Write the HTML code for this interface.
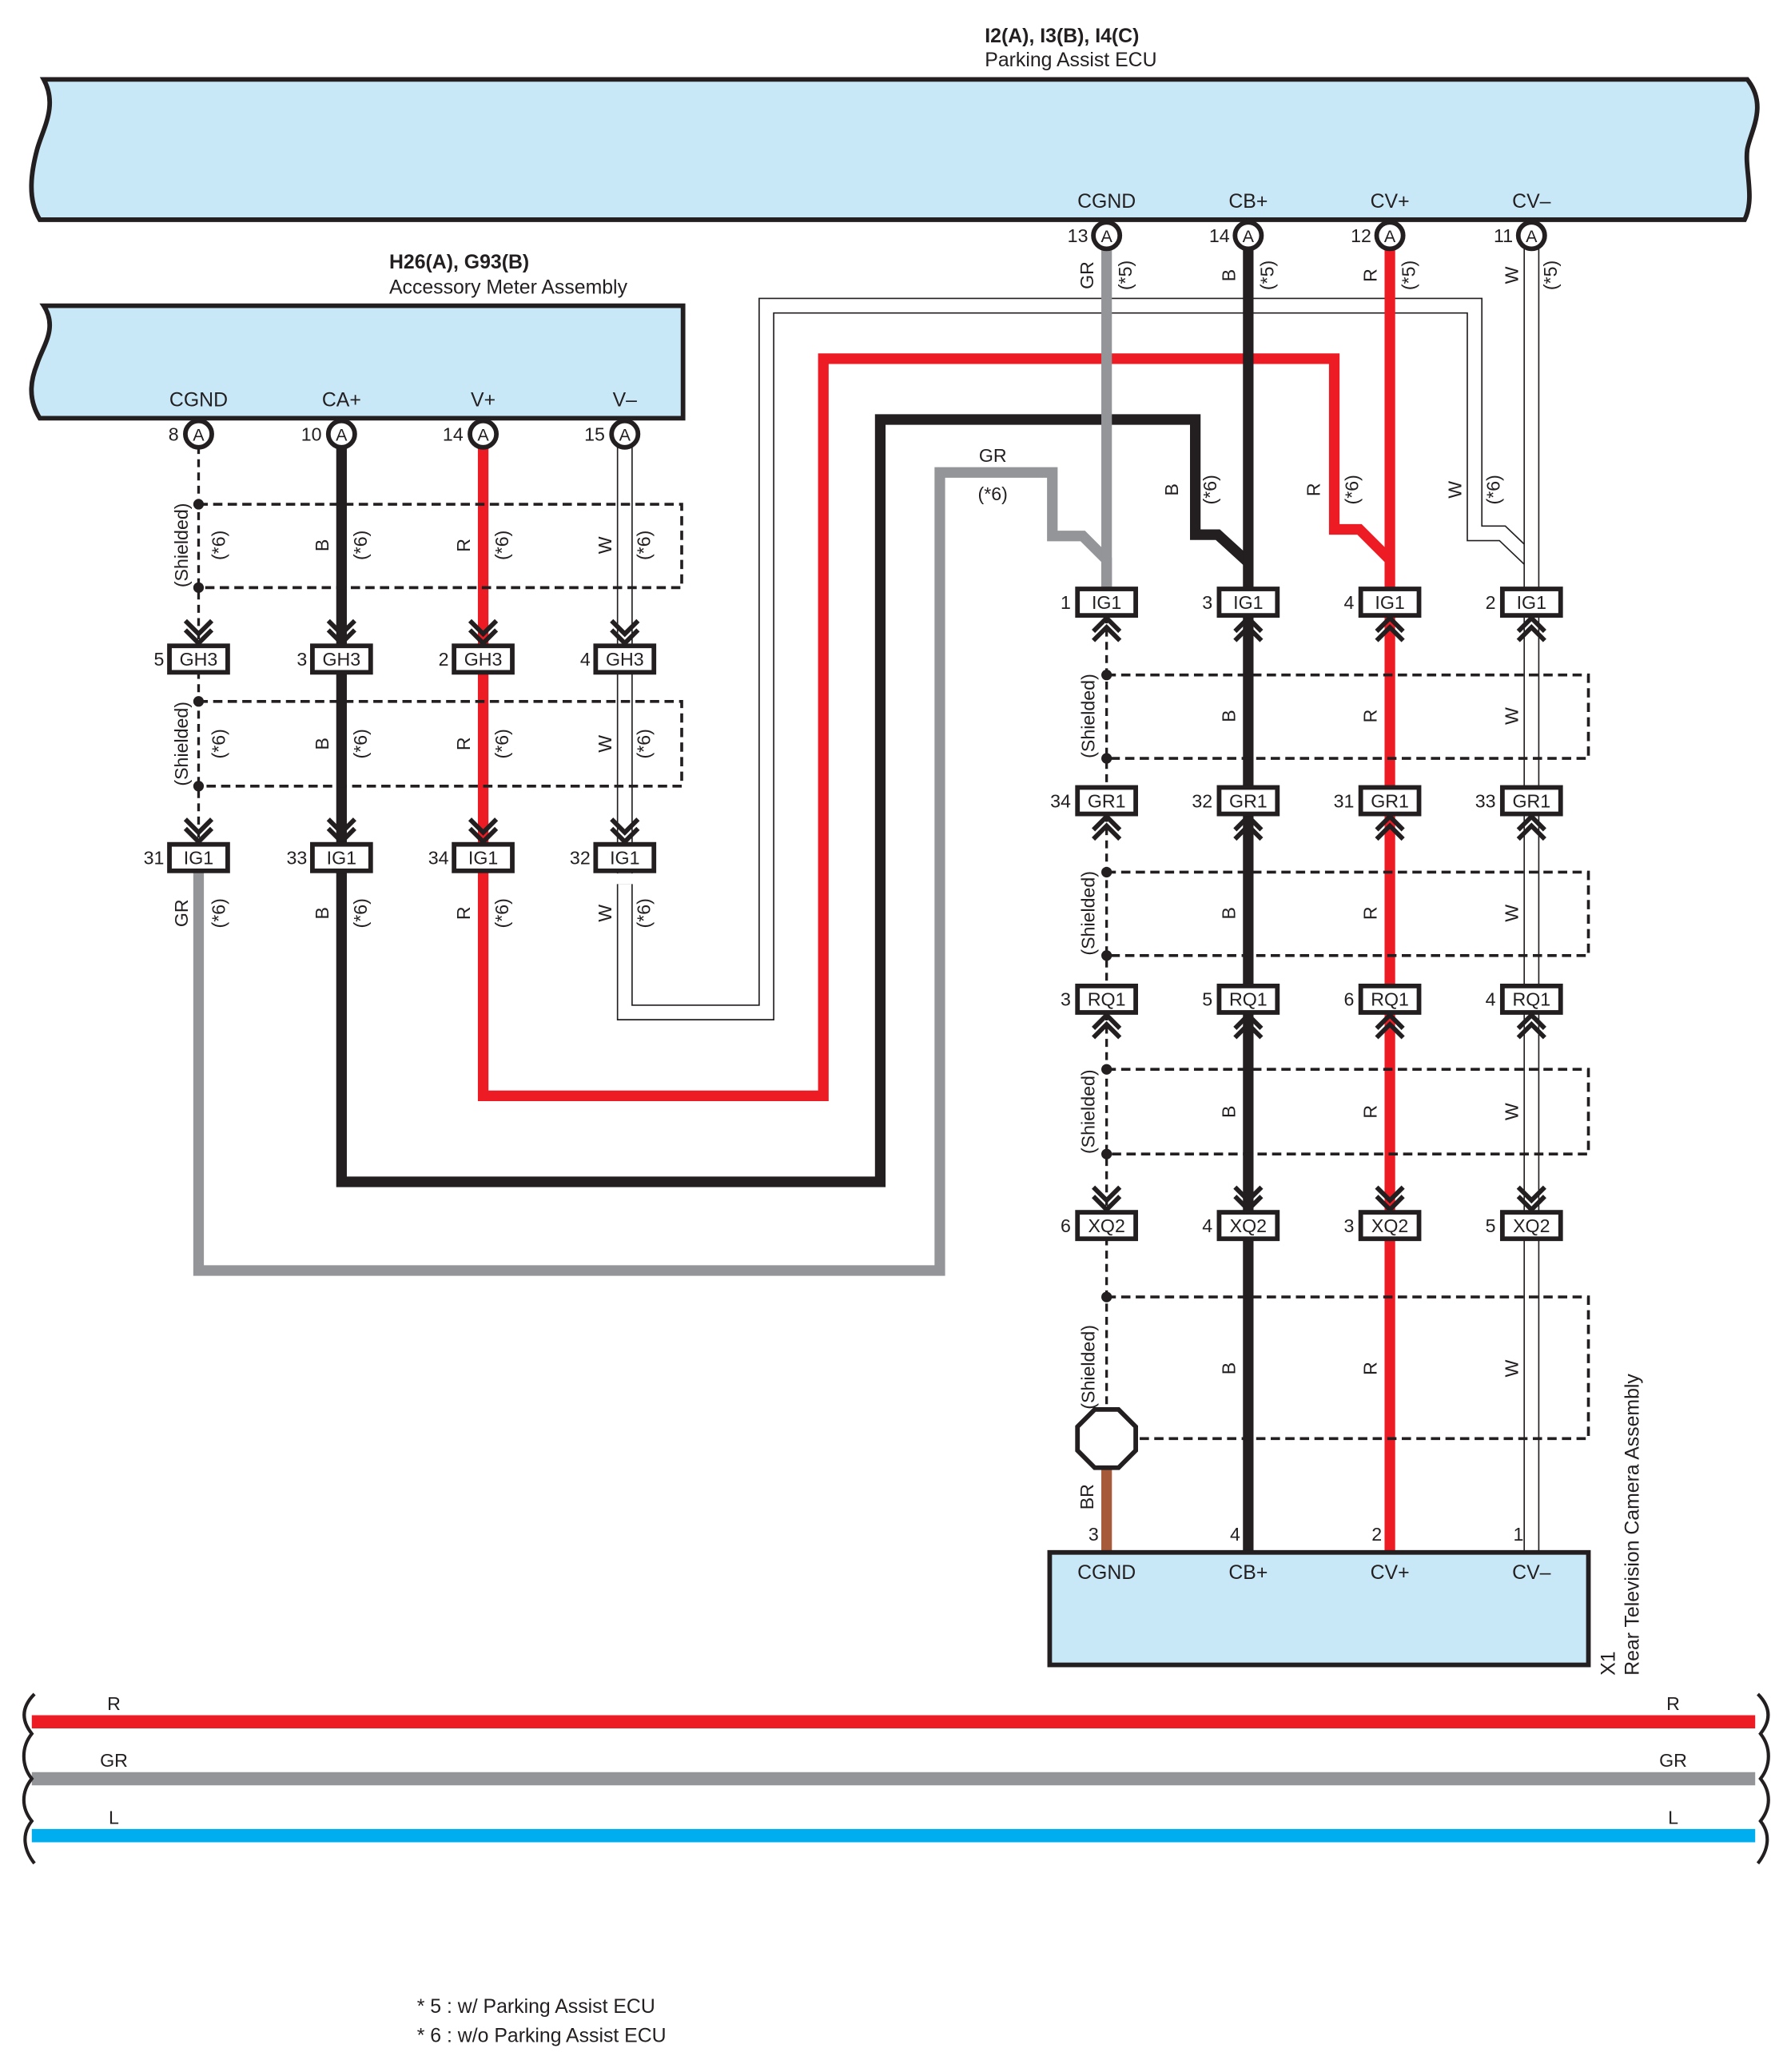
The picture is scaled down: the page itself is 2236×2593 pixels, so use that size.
<!DOCTYPE html>
<html><head><meta charset="utf-8"><style>html,body{margin:0;padding:0;background:#fff}svg{display:block}text{font-family:"Liberation Sans",sans-serif;fill:#231f20}</style></head><body>
<svg width="2236" height="2593" viewBox="0 0 1350 1565.6" xmlns="http://www.w3.org/2000/svg">
<defs>
<g id="cd" fill="none" stroke="#231f20" stroke-width="3.5"><polyline points="-10,-8 0,2 10,-8"/><polyline points="-10,-1 0,9 10,-1"/></g>
<g id="cu" fill="none" stroke="#231f20" stroke-width="3.5"><polyline points="-10,8 0,-2 10,8"/><polyline points="-10,1 0,-9 10,1"/></g>
</defs>
<!-- titles -->
<text x="744" y="32" font-size="15" font-weight="bold">I2(A), I3(B), I4(C)</text>
<text x="744" y="50" font-size="15">Parking Assist ECU</text>
<text x="294" y="203" font-size="15" font-weight="bold">H26(A), G93(B)</text>
<text x="294" y="222" font-size="15">Accessory Meter Assembly</text>
<!-- ECU box -->
<path d="M33,60 L1320,60 C1336,80 1322,100 1320,113 C1318,128 1326,150 1318,166 L30,166 C20,150 24,128 28,113 C32,98 44,80 33,60 Z" fill="#c8e8f8" stroke="#231f20" stroke-width="3.5"/>
<!-- Accessory box -->
<path d="M33,231 L516,231 L516,316 L30,316 C20,300 24,285 28,275 C32,262 44,248 33,231 Z" fill="#c8e8f8" stroke="#231f20" stroke-width="3.5"/>
<g font-size="15" text-anchor="middle">
<text x="836" y="157">CGND</text><text x="943" y="157">CB+</text><text x="1050" y="157">CV+</text><text x="1157" y="157">CV–</text>
<text x="150" y="307">CGND</text><text x="258" y="307">CA+</text><text x="365" y="307">V+</text><text x="472" y="307">V–</text>
</g>
<!-- W wire routing (double line) -->
<g fill="none" stroke-linejoin="miter">
<path d="M472,668 L472,765 L579,765 L579,231 L1114,231 L1114,403 L1135,403 L1157,424" stroke="#231f20" stroke-width="12"/>
<path d="M472,668 L472,765 L579,765 L579,231 L1114,231 L1114,403 L1135,403 L1157,424" stroke="#fff" stroke-width="10"/>
<!-- GR -->
<path d="M150,658 L150,960 L710,960 L710,357 L795,357 L795,405 L818,405 L836,423 L836,445" stroke="#939598" stroke-width="8"/>
<!-- B -->
<path d="M258,658 L258,893 L665,893 L665,317 L903,317 L903,404 L920,404 L943,425" stroke="#231f20" stroke-width="8"/>
<!-- R -->
<path d="M365,658 L365,828 L622,828 L622,271 L1008,271 L1008,400 L1027,400 L1050,423" stroke="#ed1c24" stroke-width="8"/>
</g>
<!-- right verticals -->
<g fill="none">
<line x1="836" y1="187" x2="836" y2="445" stroke="#939598" stroke-width="8"/>
<line x1="943" y1="187" x2="943" y2="1172" stroke="#231f20" stroke-width="8"/>
<line x1="1050" y1="187" x2="1050" y2="1172" stroke="#ed1c24" stroke-width="8"/>
<line x1="1157" y1="187" x2="1157" y2="1172" stroke="#231f20" stroke-width="12"/>
<line x1="1157" y1="187" x2="1157" y2="1172" stroke="#fff" stroke-width="10"/>
<line x1="836" y1="465" x2="836" y2="1065" stroke="#231f20" stroke-width="2" stroke-dasharray="6,4"/>
<line x1="836" y1="1108" x2="836" y2="1172" stroke="#a65a3a" stroke-width="8"/>
<!-- left verticals -->
<line x1="150" y1="337" x2="150" y2="638" stroke="#231f20" stroke-width="2" stroke-dasharray="6,4"/>
<line x1="258" y1="337" x2="258" y2="660" stroke="#231f20" stroke-width="8"/>
<line x1="365" y1="337" x2="365" y2="660" stroke="#ed1c24" stroke-width="8"/>
<line x1="472" y1="337" x2="472" y2="660" stroke="#231f20" stroke-width="12"/>
<line x1="472" y1="337" x2="472" y2="660" stroke="#fff" stroke-width="10"/>
</g>
<!-- shield boxes -->
<g fill="none" stroke="#231f20" stroke-width="2.2" stroke-dasharray="7,4">
<path d="M150,381 L515,381 L515,444 L150,444"/>
<path d="M150,530 L515,530 L515,594 L150,594"/>
<path d="M836,510 L1200,510 L1200,573 L836,573"/>
<path d="M836,659 L1200,659 L1200,722 L836,722"/>
<path d="M836,808 L1200,808 L1200,872 L836,872"/>
<path d="M836,980 L1200,980 L1200,1087 L858,1087"/>
</g>
<g fill="#231f20">
<circle cx="150" cy="381" r="4"/><circle cx="150" cy="444" r="4"/><circle cx="150" cy="530" r="4"/><circle cx="150" cy="594" r="4"/>
<circle cx="836" cy="510" r="4"/><circle cx="836" cy="573" r="4"/><circle cx="836" cy="659" r="4"/><circle cx="836" cy="722" r="4"/>
<circle cx="836" cy="808" r="4"/><circle cx="836" cy="872" r="4"/><circle cx="836" cy="980" r="4"/>
</g>
<!-- octagon -->
<polygon points="827,1065 845,1065 858,1078 858,1096 845,1109 827,1109 814,1096 814,1078" fill="#fff" stroke="#231f20" stroke-width="3.5"/>
<!-- pin circles -->
<g fill="#fff" stroke="#231f20" stroke-width="3.5">
<circle cx="836" cy="178" r="10"/><circle cx="943" cy="178" r="10"/><circle cx="1050" cy="178" r="10"/><circle cx="1157" cy="178" r="10"/>
<circle cx="150" cy="328" r="10"/><circle cx="258" cy="328" r="10"/><circle cx="365" cy="328" r="10"/><circle cx="472" cy="328" r="10"/>
</g>
<g font-size="13" text-anchor="middle">
<text x="836" y="183">A</text><text x="943" y="183">A</text><text x="1050" y="183">A</text><text x="1157" y="183">A</text>
<text x="150" y="333">A</text><text x="258" y="333">A</text><text x="365" y="333">A</text><text x="472" y="333">A</text>
</g>
<g font-size="14" text-anchor="end">
<text x="822" y="183">13</text><text x="929" y="183">14</text><text x="1036" y="183">12</text><text x="1143" y="183">11</text>
<text x="135" y="333">8</text><text x="243" y="333">10</text><text x="350" y="333">14</text><text x="457" y="333">15</text>
</g>
<!-- chevrons -->
<use href="#cd" x="150" y="477"/><use href="#cd" x="258" y="477"/><use href="#cd" x="365" y="477"/><use href="#cd" x="472" y="477"/>
<use href="#cd" x="150" y="627"/><use href="#cd" x="258" y="627"/><use href="#cd" x="365" y="627"/><use href="#cd" x="472" y="627"/>
<use href="#cu" x="836" y="476"/><use href="#cu" x="943" y="476"/><use href="#cu" x="1050" y="476"/><use href="#cu" x="1157" y="476"/>
<use href="#cu" x="836" y="626"/><use href="#cu" x="943" y="626"/><use href="#cu" x="1050" y="626"/><use href="#cu" x="1157" y="626"/>
<use href="#cu" x="836" y="776"/><use href="#cu" x="943" y="776"/><use href="#cu" x="1050" y="776"/><use href="#cu" x="1157" y="776"/>
<use href="#cd" x="836" y="905"/><use href="#cd" x="943" y="905"/><use href="#cd" x="1050" y="905"/><use href="#cd" x="1157" y="905"/>
<!-- connectors -->
<g fill="#fff" stroke="#231f20" stroke-width="3.5">
<rect x="128" y="488" width="44" height="20"/><rect x="236" y="488" width="44" height="20"/><rect x="343" y="488" width="44" height="20"/><rect x="450" y="488" width="44" height="20"/>
<rect x="128" y="638" width="44" height="20"/><rect x="236" y="638" width="44" height="20"/><rect x="343" y="638" width="44" height="20"/><rect x="450" y="638" width="44" height="20"/>
<rect x="814" y="445" width="44" height="20"/><rect x="921" y="445" width="44" height="20"/><rect x="1028" y="445" width="44" height="20"/><rect x="1135" y="445" width="44" height="20"/>
<rect x="814" y="595" width="44" height="20"/><rect x="921" y="595" width="44" height="20"/><rect x="1028" y="595" width="44" height="20"/><rect x="1135" y="595" width="44" height="20"/>
<rect x="814" y="745" width="44" height="20"/><rect x="921" y="745" width="44" height="20"/><rect x="1028" y="745" width="44" height="20"/><rect x="1135" y="745" width="44" height="20"/>
<rect x="814" y="916" width="44" height="20"/><rect x="921" y="916" width="44" height="20"/><rect x="1028" y="916" width="44" height="20"/><rect x="1135" y="916" width="44" height="20"/>
</g>
<g font-size="14" text-anchor="middle">
<text x="150" y="503">GH3</text><text x="258" y="503">GH3</text><text x="365" y="503">GH3</text><text x="472" y="503">GH3</text>
<text x="150" y="653">IG1</text><text x="258" y="653">IG1</text><text x="365" y="653">IG1</text><text x="472" y="653">IG1</text>
<text x="836" y="460">IG1</text><text x="943" y="460">IG1</text><text x="1050" y="460">IG1</text><text x="1157" y="460">IG1</text>
<text x="836" y="610">GR1</text><text x="943" y="610">GR1</text><text x="1050" y="610">GR1</text><text x="1157" y="610">GR1</text>
<text x="836" y="760">RQ1</text><text x="943" y="760">RQ1</text><text x="1050" y="760">RQ1</text><text x="1157" y="760">RQ1</text>
<text x="836" y="931">XQ2</text><text x="943" y="931">XQ2</text><text x="1050" y="931">XQ2</text><text x="1157" y="931">XQ2</text>
</g>
<g font-size="14" text-anchor="end">
<text x="124" y="503">5</text><text x="232" y="503">3</text><text x="339" y="503">2</text><text x="446" y="503">4</text>
<text x="124" y="653">31</text><text x="232" y="653">33</text><text x="339" y="653">34</text><text x="446" y="653">32</text>
<text x="809" y="460">1</text><text x="916" y="460">3</text><text x="1023" y="460">4</text><text x="1130" y="460">2</text>
<text x="809" y="610">34</text><text x="916" y="610">32</text><text x="1023" y="610">31</text><text x="1130" y="610">33</text>
<text x="809" y="760">3</text><text x="916" y="760">5</text><text x="1023" y="760">6</text><text x="1130" y="760">4</text>
<text x="809" y="931">6</text><text x="916" y="931">4</text><text x="1023" y="931">3</text><text x="1130" y="931">5</text>
<text x="830" y="1164">3</text><text x="937" y="1164">4</text><text x="1044" y="1164">2</text><text x="1151" y="1164">1</text>
</g>
<!-- camera box -->
<rect x="793" y="1173" width="407" height="85" fill="#c8e8f8" stroke="#231f20" stroke-width="3.5"/>
<g font-size="15" text-anchor="middle">
<text x="836" y="1193">CGND</text><text x="943" y="1193">CB+</text><text x="1050" y="1193">CV+</text><text x="1157" y="1193">CV–</text>
</g>
<text transform="translate(1220,1266) rotate(-90)" font-size="15">X1</text>
<text transform="translate(1238,1266) rotate(-90)" font-size="15">Rear Television Camera Assembly</text>
<!-- rotated labels -->
<g font-size="14" text-anchor="middle">
<text transform="translate(826,208) rotate(-90)">GR</text><text transform="translate(855,208) rotate(-90)">(*5)</text>
<text transform="translate(933,208) rotate(-90)">B</text><text transform="translate(962,208) rotate(-90)">(*5)</text>
<text transform="translate(1040,208) rotate(-90)">R</text><text transform="translate(1069,208) rotate(-90)">(*5)</text>
<text transform="translate(1147,208) rotate(-90)">W</text><text transform="translate(1176,208) rotate(-90)">(*5)</text>
<text transform="translate(890,370) rotate(-90)">B</text><text transform="translate(919,370) rotate(-90)">(*6)</text>
<text transform="translate(997,370) rotate(-90)">R</text><text transform="translate(1026,370) rotate(-90)">(*6)</text>
<text transform="translate(1104,370) rotate(-90)">W</text><text transform="translate(1133,370) rotate(-90)">(*6)</text>
<text transform="translate(142,412) rotate(-90)">(Shielded)</text><text transform="translate(170,412) rotate(-90)">(*6)</text>
<text transform="translate(248,412) rotate(-90)">B</text><text transform="translate(277,412) rotate(-90)">(*6)</text>
<text transform="translate(355,412) rotate(-90)">R</text><text transform="translate(384,412) rotate(-90)">(*6)</text>
<text transform="translate(462,412) rotate(-90)">W</text><text transform="translate(491,412) rotate(-90)">(*6)</text>
<text transform="translate(142,562) rotate(-90)">(Shielded)</text><text transform="translate(170,562) rotate(-90)">(*6)</text>
<text transform="translate(248,562) rotate(-90)">B</text><text transform="translate(277,562) rotate(-90)">(*6)</text>
<text transform="translate(355,562) rotate(-90)">R</text><text transform="translate(384,562) rotate(-90)">(*6)</text>
<text transform="translate(462,562) rotate(-90)">W</text><text transform="translate(491,562) rotate(-90)">(*6)</text>
<text transform="translate(142,690) rotate(-90)">GR</text><text transform="translate(170,690) rotate(-90)">(*6)</text>
<text transform="translate(248,690) rotate(-90)">B</text><text transform="translate(277,690) rotate(-90)">(*6)</text>
<text transform="translate(355,690) rotate(-90)">R</text><text transform="translate(384,690) rotate(-90)">(*6)</text>
<text transform="translate(462,690) rotate(-90)">W</text><text transform="translate(491,690) rotate(-90)">(*6)</text>
<text transform="translate(827,541) rotate(-90)">(Shielded)</text>
<text transform="translate(827,690) rotate(-90)">(Shielded)</text>
<text transform="translate(827,840) rotate(-90)">(Shielded)</text>
<text transform="translate(827,1033) rotate(-90)">(Shielded)</text>
<text transform="translate(826,1131) rotate(-90)">BR</text>
<text transform="translate(933,541) rotate(-90)">B</text><text transform="translate(1040,541) rotate(-90)">R</text><text transform="translate(1147,541) rotate(-90)">W</text>
<text transform="translate(933,690) rotate(-90)">B</text><text transform="translate(1040,690) rotate(-90)">R</text><text transform="translate(1147,690) rotate(-90)">W</text>
<text transform="translate(933,840) rotate(-90)">B</text><text transform="translate(1040,840) rotate(-90)">R</text><text transform="translate(1147,840) rotate(-90)">W</text>
<text transform="translate(933,1034) rotate(-90)">B</text><text transform="translate(1040,1034) rotate(-90)">R</text><text transform="translate(1147,1034) rotate(-90)">W</text>
<text x="750" y="349">GR</text><text x="750" y="378">(*6)</text>
</g>
<!-- bottom lines -->
<line x1="24" y1="1301" x2="1326" y2="1301" stroke="#ed1c24" stroke-width="10"/>
<line x1="24" y1="1344" x2="1326" y2="1344" stroke="#939598" stroke-width="10"/>
<line x1="24" y1="1387" x2="1326" y2="1387" stroke="#00aeef" stroke-width="10"/>
<g fill="none" stroke="#231f20" stroke-width="2.5">
<path d="M26,1280 C16,1290 16,1300 24,1310 C16,1320 16,1334 24,1344 C16,1354 16,1366 24,1376 C16,1386 18,1398 26,1408"/>
<path d="M1328,1280 C1338,1290 1338,1300 1330,1310 C1338,1320 1338,1334 1330,1344 C1338,1354 1338,1366 1330,1376 C1338,1386 1336,1398 1328,1408"/>
</g>
<g font-size="14" text-anchor="middle">
<text x="86" y="1292">R</text><text x="1264" y="1292">R</text>
<text x="86" y="1335">GR</text><text x="1264" y="1335">GR</text>
<text x="86" y="1378">L</text><text x="1264" y="1378">L</text>
</g>
<text x="315" y="1521" font-size="15">* 5 : w/ Parking Assist ECU</text>
<text x="315" y="1543" font-size="15">* 6 : w/o Parking Assist ECU</text>
</svg>
</body></html>
